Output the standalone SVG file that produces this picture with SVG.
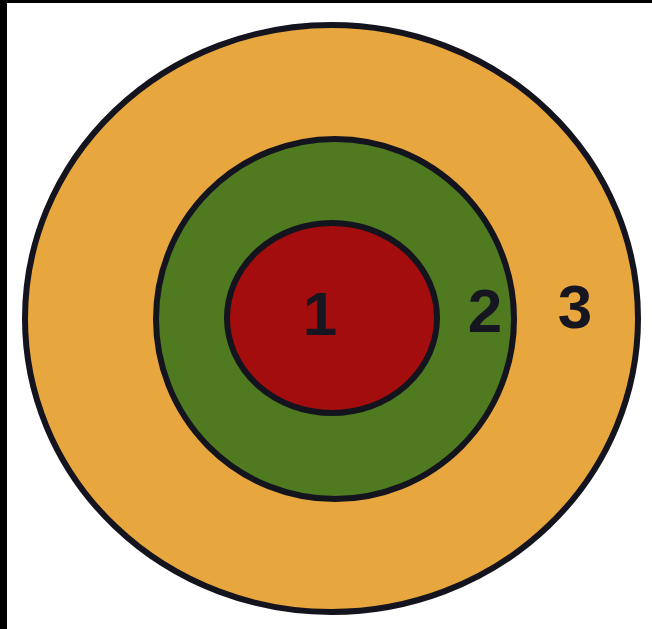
<svg xmlns="http://www.w3.org/2000/svg" width="652" height="629" viewBox="0 0 652 629">
<style>
.ring{stroke:#14141e;stroke-width:6}
.lbl{font-family:"Liberation Sans",Arial,sans-serif;font-weight:bold;font-size:62px;fill:#161620;text-anchor:middle}
</style>
<rect x="0" y="0" width="652" height="629" fill="#ffffff"/>
<rect x="0" y="0" width="7" height="629" fill="#000"/>
<rect x="0" y="0" width="652" height="3" fill="#000"/>
<g id="zone3">
<ellipse class="ring" cx="331.5" cy="318.5" rx="306.5" ry="293.5" fill="#E8A63E"/>
<text class="lbl" x="575" y="328">3</text>
</g>
<g id="zone2">
<ellipse class="ring" cx="335" cy="319" rx="179" ry="180" fill="#4F7A20"/>
<text class="lbl" x="485" y="332">2</text>
</g>
<g id="zone1">
<ellipse class="ring" cx="332" cy="318" rx="105" ry="95" fill="#A30D0D"/>
<text class="lbl" x="320" y="335">1</text>
</g>
<g id="connectors"/>
</svg>
